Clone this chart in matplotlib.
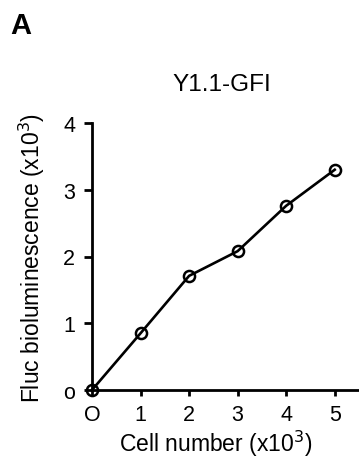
import matplotlib.pyplot as plt

plt.rcParams['font.family'] = ['Liberation Sans', 'DejaVu Sans']

cells = [0, 1, 2, 3, 4, 5]
fluc = [0, 0.85, 1.71, 2.08, 2.76, 3.30]
xtick_labels = ['O', '1', '2', '3', '4', '5']
ytick_labels = ['o', '1', '2', '3', '4']

fig = plt.figure(figsize=(3.59, 4.64), dpi=100)
ax = fig.add_axes([92 / 359, 1 - 391 / 464, 267 / 359, 267 / 464])

ax.plot(cells, fluc, color='black', lw=1.9, marker='o', markersize=8,
        markerfacecolor='none', markeredgewidth=1.8, clip_on=False, zorder=3)

ax.set_xlim(0, 5.5)
ax.set_ylim(0, 4)
ax.set_xticks(cells)
ax.set_xticklabels(xtick_labels)
ax.set_yticks([0, 1, 2, 3, 4])
ax.set_yticklabels(ytick_labels)
ax.spines['top'].set_visible(False)
ax.spines['right'].set_visible(False)
ax.spines['left'].set_linewidth(2)
ax.spines['bottom'].set_linewidth(2)
ax.tick_params(axis='y', labelsize=15.5, width=2, length=6, direction='out', pad=6)
ax.tick_params(axis='x', labelsize=15.5, width=2, length=4, direction='out', pad=6)

ax.set_xlabel('Cell number (x10$^3$)', fontsize=16.5, labelpad=1)
ax.xaxis.set_label_coords(0.465, -0.14)
ax.set_ylabel('Fluc bioluminescence (x10$^3$)', fontsize=16.5, labelpad=12)
fig.text(222 / 359, 1 - 85 / 464, 'Y1.1-GFI', fontsize=17.5, ha='center', va='center')
fig.text(10 / 359, 1 - 26 / 464, 'A', fontsize=21, fontweight='bold', ha='left', va='center')

fig.savefig('out.png', dpi=100)
